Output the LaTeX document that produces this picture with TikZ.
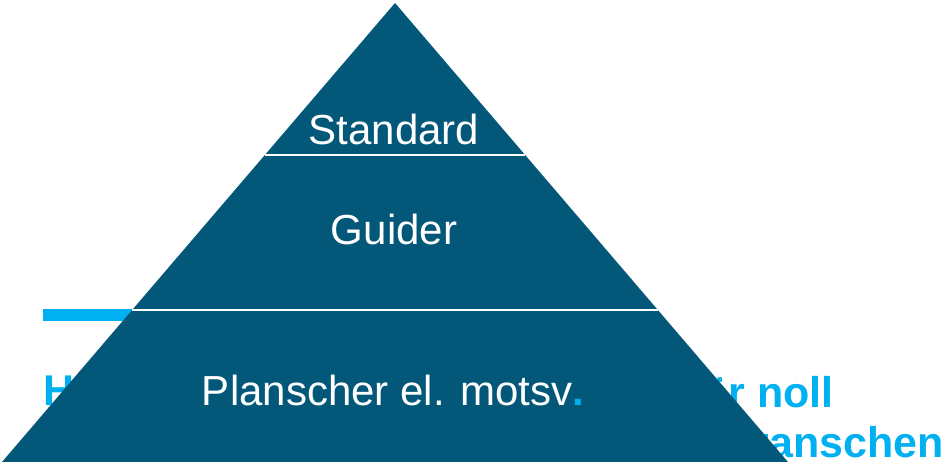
\documentclass[tikz,border=0pt]{standalone}
\usepackage{fontspec}
\setmainfont{Liberation Sans}
\definecolor{pyramidblue}{HTML}{03587A}
\definecolor{brightblue}{HTML}{00B0F0}
\begin{document}
\begin{tikzpicture}[x=1pt,y=-1pt]

      \useasboundingbox (0,0) rectangle (947,462);

      % text of the slide, mostly hidden by the pyramid
      \fill[brightblue] (43,309) rectangle (200,321);
      \begin{scope}[every node/.style={inner sep=0,text=brightblue,font=\fontsize{43}{50}\selectfont\bfseries}]
        \node[anchor=base west] (hline)  at (43,405)  {H};
        \node[anchor=base east] (noll)   at (834,407) {ör noll};
        \node[anchor=base east] (bransch) at (944,457) {ranschen};
      \end{scope}

      % the pyramid
      \coordinate (apex) at (395,3);
      \coordinate (bl)   at (2,462);
      \coordinate (br)   at (788,462);
      \coordinate (l1)   at (265,155);
      \coordinate (r1)   at (525,155);
      \coordinate (l2)   at (132,310);
      \coordinate (r2)   at (658,310);
      \fill[pyramidblue] (apex) -- (br) -- (bl) -- cycle;

      \begin{scope}[every path/.style={draw=white,line width=2pt}]
        \path (l1) -- (r1);
        \path (l2) -- (r2);
      \end{scope}

      \begin{scope}[every node/.style={inner sep=0,anchor=base,text=white,font=\fontsize{42}{50}\selectfont}]
        \node (standard) at (394,145) {Standard};
        \node (guider)   at (394,244) {Guider};
        \node (plansch)  at (393,405) {Planscher el. motsv\textcolor{brightblue}{\bfseries.}};
      \end{scope}

    \end{tikzpicture}
\end{document}
